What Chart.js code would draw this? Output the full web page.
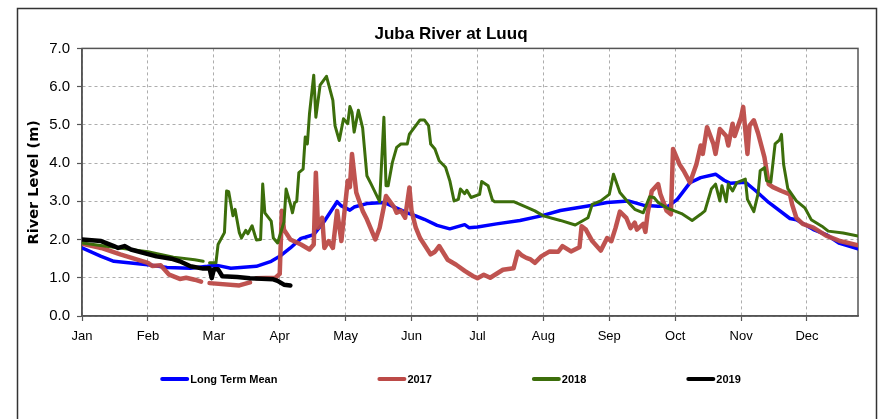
<!DOCTYPE html>
<html>
<head>
<meta charset="utf-8">
<script src="https://cdn.jsdelivr.net/npm/chart.js@4.4.1/dist/chart.umd.min.js"></script>
<style>
html,body{margin:0;padding:0;background:#ffffff;}
#wrap{width:886px;height:419px;}
</style>
</head>
<body>
<div id="wrap"><canvas id="c" width="886" height="419"></canvas></div>
<script>
// ---- data ----
const monthLabels = ['Jan','Feb','Mar','Apr','May','Jun','Jul','Aug','Sep','Oct','Nov','Dec'];
const yTickValues = [0,1,2,3,4,5,6,7];

const meanDays   = [0,9,15,31,40,51,59,63,70,82,89,93,98,103,105,109,114,120,122,126,128,134,142,147,153,157,161,167,173,180,182,186,195,206,216,225,238,247,257,264,271,276,280,286,291,298,302,305,312,317,323,333,336,344,350,356,365];
const meanLevels = [1.78,1.56,1.43,1.34,1.27,1.25,1.30,1.33,1.25,1.30,1.43,1.56,1.78,2.03,2.06,2.13,2.48,2.99,2.88,2.77,2.85,2.94,2.97,2.85,2.70,2.62,2.53,2.37,2.28,2.39,2.31,2.33,2.41,2.50,2.62,2.76,2.88,2.97,3.01,2.90,2.87,2.88,3.05,3.49,3.62,3.71,3.55,3.47,3.50,3.27,2.97,2.55,2.52,2.26,2.13,1.91,1.76];

const days2017   = [0,9,18,31,33,37,41,46,49,53,56,58,60,74,79,80,82,91,93,94,95,98,103,107,109,110,111,113,114,116,118,120,122,125,126,127,129,132,134,138,140,143,147,148,150,152,154,155,157,159,164,166,168,172,176,180,184,186,189,192,198,203,205,207,209,211,213,216,220,224,226,230,234,235,237,240,244,247,249,251,253,256,258,260,261,264,265,266,268,271,272,275,277,278,281,283,286,289,291,292,294,297,298,300,303,304,306,307,310,311,313,314,316,318,321,323,325,329,333,334,336,339,344,350,356,365];
const levels2017 = [1.89,1.78,1.61,1.39,1.31,1.33,1.08,0.97,1.00,0.95,0.90,null,0.86,0.80,0.88,null,0.99,1.00,1.10,2.75,2.26,2.00,1.87,1.74,1.87,3.75,2.31,2.57,1.78,1.96,1.78,2.75,1.96,3.54,3.37,4.24,3.23,2.75,2.53,2.00,2.31,3.14,2.83,2.70,2.75,2.57,3.36,2.75,2.31,2.04,1.61,1.68,1.83,1.47,1.34,1.18,1.04,0.99,1.08,1.00,1.21,1.25,1.68,1.58,1.52,1.48,1.39,1.56,1.69,1.68,1.83,1.69,1.80,2.35,2.26,1.96,1.71,2.04,1.96,2.31,2.73,2.57,2.30,2.44,2.26,2.41,2.20,2.66,3.27,3.45,3.20,2.75,2.66,4.37,3.97,3.80,3.49,3.97,4.46,4.24,4.94,4.50,4.24,4.89,4.71,4.46,5.03,4.71,5.20,5.47,4.24,4.98,5.12,4.78,4.15,3.45,3.37,3.27,3.18,2.92,2.57,2.41,2.31,2.10,1.97,1.85];

const days2018   = [0,15,31,43,53,57,58,60,63,64,67,68,69,71,72,74,75,77,78,80,82,84,85,86,89,90,92,95,96,98,99,100,101,102,104,105,106,107,109,110,112,115,118,119,121,123,125,126,127,128,130,132,134,136,140,142,143,144,146,148,150,153,154,157,159,161,163,164,166,168,171,173,175,177,178,180,181,183,187,188,191,193,194,203,209,213,217,225,232,238,240,244,248,250,253,257,260,264,267,269,271,275,282,287,291,293,296,298,300,301,303,304,306,308,312,313,316,318,319,321,322,324,326,328,329,330,332,336,340,343,348,351,358,365];
const levels2018 = [1.91,1.80,1.68,1.54,1.47,1.43,null,1.39,1.39,1.87,2.18,3.27,3.25,2.62,2.79,2.18,2.04,2.24,2.15,2.36,1.99,2.00,3.45,2.70,2.48,2.04,1.91,2.46,3.32,2.93,2.70,2.96,3.00,3.75,3.84,4.68,4.50,5.29,6.30,5.20,6.04,6.27,5.64,4.98,4.59,5.16,5.03,5.48,5.33,4.81,5.38,4.92,3.67,3.45,2.99,5.20,3.41,3.41,4.02,4.41,4.50,4.50,4.76,4.98,5.13,5.13,4.98,4.50,4.37,4.06,3.89,3.54,3.01,3.05,3.32,3.20,3.29,3.10,3.18,3.52,3.41,3.04,2.99,2.99,2.85,2.75,2.62,2.50,2.38,2.57,2.92,3.01,3.18,3.71,3.23,2.97,2.79,2.70,3.12,3.10,2.97,2.83,2.68,2.50,2.66,2.75,3.32,3.45,3.01,3.41,2.99,3.45,3.27,3.49,3.58,3.05,2.73,3.20,3.80,3.88,3.54,3.50,4.50,4.60,4.75,3.97,3.33,3.01,2.83,2.52,2.35,2.22,2.17,2.09];

const days2019   = [0,9,15,17,20,23,31,35,42,46,51,57,60,61,62,64,66,73,79,90,92,95,98];
const levels2019 = [2.00,1.96,1.83,1.78,1.83,1.74,1.62,1.56,1.50,1.43,1.30,1.24,1.25,0.99,1.22,1.22,1.04,1.02,0.99,0.96,0.92,0.82,0.80];

// ---- helpers ----
const SANS = '"Liberation Sans", Arial, sans-serif';
function toPoints(days, levels) { return days.map((d, i) => ({x: d, y: levels[i]})); }

const frameAndLegend = {
  id: 'frameAndLegend',
  beforeDatasetsDraw(chart) {
    const {ctx, chartArea: a} = chart;
    ctx.save();
    ctx.strokeStyle = '#555555';
    ctx.lineWidth = 1.5;
    ctx.strokeRect(a.left, a.top, a.right - a.left, a.bottom - a.top);
    ctx.restore();
  },
  afterDraw(chart) {
    const ctx = chart.ctx;
    ctx.save();
    // outer border
    ctx.strokeStyle = '#333333';
    ctx.lineWidth = 1.5;
    ctx.strokeRect(17.5, 8.5, 859, 430);
    // legend
    ctx.font = 'bold 11px ' + SANS;
    ctx.textBaseline = 'middle';
    ctx.textAlign = 'left';
    const sample = 27, gap = 2, spacing = 101;
    const items = chart.data.datasets.map(ds => ({label: ds.label, color: ds.legendColor || ds.borderColor, w: ctx.measureText(ds.label).width}));
    const total = items.reduce((s, it) => s + sample + gap + it.w, 0) + spacing * (items.length - 1);
    let x = 451 - total / 2;
    const y = chart.height - 40;
    items.forEach(it => {
      ctx.strokeStyle = it.color;
      ctx.lineWidth = 4;
      ctx.lineCap = 'round';
      ctx.beginPath();
      ctx.moveTo(x + 1, y);
      ctx.lineTo(x + sample - 1, y);
      ctx.stroke();
      ctx.fillStyle = '#000000';
      ctx.fillText(it.label, x + sample + gap, y + 0.5);
      x += sample + gap + it.w + spacing;
    });
    ctx.restore();
  }
};

const gridCfg = {color: '#adadad', lineWidth: 1, tickLength: 5, tickColor: '#555555', tickWidth: 1.2};
const borderCfg = {display: true, color: '#555555', width: 1.5, dash: [3, 3]};

new Chart(document.getElementById('c'), {
  type: 'line',
  data: {
    datasets: [
      {label: 'Long Term Mean', data: toPoints(meanDays, meanLevels), borderColor: '#0000ff', borderWidth: 3.5, order: 3},
      {label: '2017', data: toPoints(days2017, levels2017), borderColor: 'rgba(188,74,71,0.95)', legendColor: '#bc4a47', borderWidth: 4.5, order: 2},
      {label: '2018', data: toPoints(days2018, levels2018), borderColor: '#3c6e0b', borderWidth: 3, order: 1},
      {label: '2019', data: toPoints(days2019, levels2019), borderColor: '#000000', borderWidth: 4.5, order: 0}
    ].map(ds => Object.assign({pointRadius: 0, pointHoverRadius: 0, tension: 0, fill: false, spanGaps: false, borderJoinStyle: 'round', borderCapStyle: 'round'}, ds))
  },
  options: {
    responsive: false,
    animation: false,
    devicePixelRatio: 1,
    layout: {padding: {left: 44, right: 28, top: 11, bottom: 63}},
    plugins: {
      legend: {display: false},
      tooltip: {enabled: false},
      title: {
        display: true,
        text: 'Juba River at Luuq',
        color: '#000000',
        font: {family: SANS, size: 17, weight: 'bold'},
        padding: {top: 13, bottom: 4}
      }
    },
    scales: {
      x: {
        type: 'linear',
        min: 0,
        max: 365,
        afterBuildTicks: s => { s.ticks = monthLabels.map((m, i) => ({value: i * 31})); },
        afterFit: s => { s.height = 40; },
        ticks: {
          autoSkip: false, maxRotation: 0, minRotation: 0, padding: 8, color: '#000000',
          font: {family: SANS, size: 13},
          callback: v => monthLabels[Math.round(v / 31)]
        },
        grid: gridCfg,
        border: borderCfg
      },
      y: {
        min: 0,
        max: 7,
        afterBuildTicks: s => { s.ticks = yTickValues.map(v => ({value: v})); },
        afterFit: s => { s.width = 38; },
        ticks: {padding: 7, color: '#000000', font: {family: SANS, size: 15}, callback: v => Number(v).toFixed(1)},
        grid: gridCfg,
        border: borderCfg,
        title: {
          display: true,
          text: 'River Level (m)',
          color: '#000000',
          font: {family: '"DejaVu Sans", sans-serif', size: 14.5, weight: 'bold'},
          padding: {top: -18, bottom: 0}
        }
      }
    }
  },
  plugins: [frameAndLegend]
});
</script>
</body>
</html>
